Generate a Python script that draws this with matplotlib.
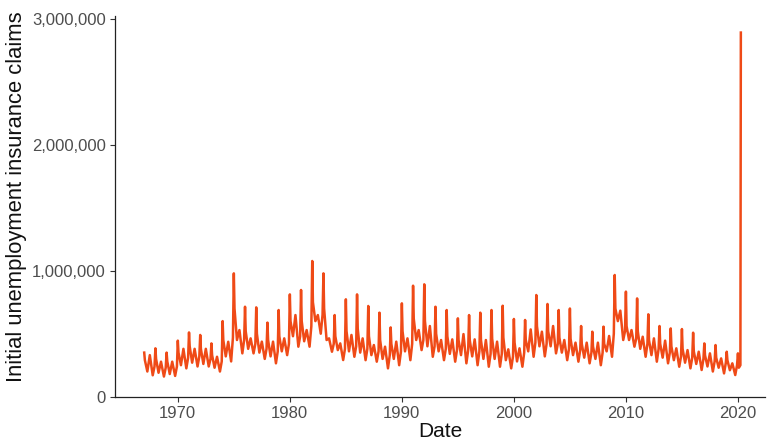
import matplotlib
matplotlib.use("Agg")
import matplotlib.pyplot as plt
from matplotlib.ticker import FuncFormatter
import numpy as np

plt.rcParams['font.family'] = ['Liberation Sans', 'DejaVu Sans']

# Weekly initial claims at a few points per year (thousands)
years = list(range(1967, 2020))
# position within year of each reading
season_pos = [0.02, 0.08, 0.30, 0.52, 0.78, 0.94]
# columns: January peak, late January, spring, July peak, autumn low, December
claims_k = [
    [350, 290, 200, 330, 170, 240],   # 1967
    [384, 300, 190, 278, 160, 230],   # 1968
    [350, 280, 180, 278, 165, 240],   # 1969
    [445, 350, 250, 380, 225, 310],   # 1970
    [510, 400, 270, 380, 240, 320],   # 1971
    [490, 380, 260, 380, 240, 300],   # 1972
    [423, 330, 230, 317, 200, 280],   # 1973
    [600, 450, 320, 436, 280, 470],   # 1974
    [979, 700, 450, 529, 344, 450],   # 1975
    [714, 520, 380, 463, 344, 420],   # 1976
    [709, 500, 350, 437, 300, 380],   # 1977
    [588, 450, 320, 437, 265, 360],   # 1978
    [688, 480, 360, 463, 330, 420],   # 1979
    [812, 600, 480, 648, 397, 480],   # 1980
    [847, 600, 440, 529, 397, 560],   # 1981
    [1077, 750, 600, 648, 500, 650],  # 1982
    [979, 700, 450, 463, 357, 420],   # 1983
    [648, 480, 370, 423, 291, 380],   # 1984
    [773, 520, 360, 490, 317, 400],   # 1985
    [812, 540, 350, 463, 290, 380],   # 1986
    [720, 480, 330, 410, 278, 360],   # 1987
    [667, 450, 300, 397, 225, 330],   # 1988
    [550, 420, 300, 437, 250, 360],   # 1989
    [741, 520, 360, 463, 290, 420],   # 1990
    [881, 620, 450, 529, 370, 450],   # 1991
    [892, 600, 400, 561, 317, 400],   # 1992
    [714, 500, 360, 450, 290, 380],   # 1993
    [688, 480, 340, 455, 278, 370],   # 1994
    [622, 450, 330, 497, 265, 370],   # 1995
    [648, 450, 320, 455, 250, 360],   # 1996
    [667, 450, 300, 450, 238, 340],   # 1997
    [688, 460, 300, 437, 238, 340],   # 1998
    [722, 470, 290, 376, 225, 320],   # 1999
    [617, 430, 280, 384, 238, 350],   # 2000
    [609, 450, 360, 534, 317, 430],   # 2001
    [807, 560, 400, 516, 320, 420],   # 2002
    [736, 520, 400, 561, 344, 420],   # 2003
    [688, 470, 350, 450, 290, 380],   # 2004
    [700, 460, 330, 429, 278, 370],   # 2005
    [561, 420, 310, 429, 265, 350],   # 2006
    [516, 400, 300, 429, 250, 350],   # 2007
    [556, 420, 360, 482, 317, 500],   # 2008
    [966, 700, 600, 683, 450, 520],   # 2009
    [834, 560, 450, 529, 397, 460],   # 2010
    [780, 520, 380, 476, 317, 420],   # 2011
    [654, 450, 330, 463, 278, 380],   # 2012
    [561, 420, 310, 445, 265, 350],   # 2013
    [542, 400, 290, 384, 238, 320],   # 2014
    [537, 380, 270, 370, 225, 310],   # 2015
    [508, 360, 260, 357, 212, 300],   # 2016
    [423, 330, 240, 344, 200, 280],   # 2017
    [410, 310, 230, 304, 185, 270],   # 2018
    [357, 290, 210, 265, 172, 250],   # 2019
]
# 2020: early-year readings and the March spike
dates_2020 = [2020.02, 2020.10, 2020.24, 2020.28]
claims_2020_k = [344, 230, 250, 2890]

x_ticks = [1970, 1980, 1990, 2000, 2010, 2020]
y_ticks = [0, 1000000, 2000000, 3000000]

dates = []
values = []
for yr, row in zip(years, claims_k):
    for p, v in zip(season_pos, row):
        dates.append(yr + p)
        values.append(v * 1000)
for d, v in zip(dates_2020, claims_2020_k):
    dates.append(d)
    values.append(v * 1000)

fig = plt.figure(figsize=(7.68, 4.43), dpi=100)
ax = fig.add_axes([0.1497, 0.1045, 0.9963 - 0.1497, 0.9646 - 0.1045])
ax.plot(dates, values, color='#EF4A17', lw=1.8, solid_joinstyle='round')

ax.set_xlim(1964.41, 2022.45)
ax.set_ylim(0, 3.024e6)
ax.set_xticks(x_ticks)
ax.set_yticks(y_ticks)
ax.yaxis.set_major_formatter(FuncFormatter(lambda v, p: f"{int(v):,}"))

for s in ['top', 'right']:
    ax.spines[s].set_visible(False)
for s in ['left', 'bottom']:
    ax.spines[s].set_color('#222222')
    ax.spines[s].set_linewidth(0.9)
ax.tick_params(axis='both', length=3.5, width=0.8, color='#333333',
               labelsize=12, labelcolor='#4D4D4D', pad=3)
ax.set_xlabel('Date', fontsize=15, color='#111111', labelpad=1)
ax.set_ylabel('Initial unemployment insurance claims', fontsize=15.8, color='#111111', labelpad=3)
ax.yaxis.set_label_coords(-0.135, 0.525)

fig.savefig('out.png', dpi=100)
